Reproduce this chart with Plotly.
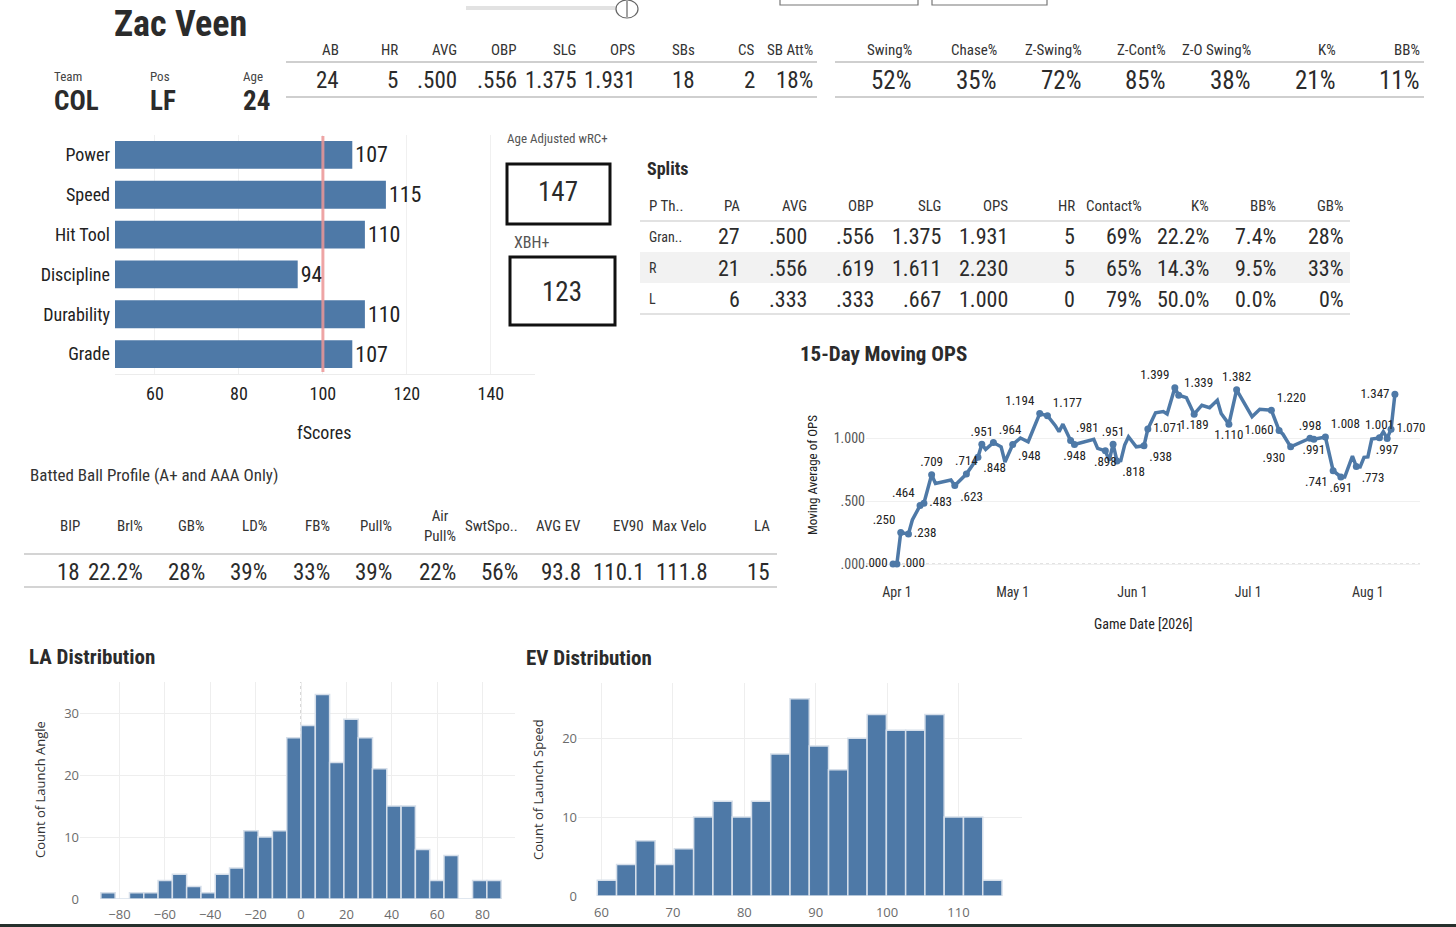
import plotly.graph_objects as go

W, H = 1456, 927
NARROW = "Roboto Condensed, Liberation Sans Narrow, Roboto, sans-serif"
BOOK = "Open Sans, Lato, sans-serif"
BLUE = "#4e79a7"
DARK = "#222222"

# ---------------- data ----------------
player_name = "Zac Veen"
bio_labels = ["Team", "Pos", "Age"]
bio_values = ["COL", "LF", "24"]

top_headers = ["AB", "HR", "AVG", "OBP", "SLG", "OPS", "SBs", "CS", "SB Att%"]
top_values = ["24", "5", ".500", ".556", "1.375", "1.931", "18", "2", "18%"]

disc_headers = ["Swing%", "Chase%", "Z-Swing%", "Z-Cont%", "Z-O Swing%", "K%", "BB%"]
disc_values = ["52%", "35%", "72%", "85%", "38%", "21%", "11%"]

fs_categories = ["Power", "Speed", "Hit Tool", "Discipline", "Durability", "Grade"]
fs_values = [107, 115, 110, 94, 110, 107]
fs_reference = 100
fs_ticks = [60, 80, 100, 120, 140]

wrc_label = "Age Adjusted wRC+"
wrc_value = "147"
xbh_label = "XBH+"
xbh_value = "123"

split_headers = ["P Th..", "PA", "AVG", "OBP", "SLG", "OPS", "HR", "Contact%", "K%", "BB%", "GB%"]
split_row_gran = ["Gran..", "27", ".500", ".556", "1.375", "1.931", "5", "69%", "22.2%", "7.4%", "28%"]
split_row_r = ["R", "21", ".556", ".619", "1.611", "2.230", "5", "65%", "14.3%", "9.5%", "33%"]
split_row_l = ["L", "6", ".333", ".333", ".667", "1.000", "0", "79%", "50.0%", "0.0%", "0%"]

bb_title = "Batted Ball Profile (A+ and AAA Only)"
bb_headers = ["BIP", "Brl%", "GB%", "LD%", "FB%", "Pull%", "Air<br>Pull%", "SwtSpo..",
              "AVG EV", "EV90", "Max Velo", "LA"]
bb_values = ["18", "22.2%", "28%", "39%", "33%", "39%", "22%", "56%", "93.8", "110.1", "111.8", "15"]

ops_dates = ["2026-03-31", "2026-04-01", "2026-04-02", "2026-04-04", "2026-04-05", "2026-04-07",
             "2026-04-08", "2026-04-10", "2026-04-11", "2026-04-15", "2026-04-16", "2026-04-19",
             "2026-04-22", "2026-04-23", "2026-04-24", "2026-04-26", "2026-04-28", "2026-04-29",
             "2026-05-01", "2026-05-03", "2026-05-05", "2026-05-08", "2026-05-10", "2026-05-12",
             "2026-05-13", "2026-05-14", "2026-05-16", "2026-05-17", "2026-05-22", "2026-05-23",
             "2026-05-25", "2026-05-26", "2026-05-27", "2026-05-28", "2026-05-29", "2026-05-30",
             "2026-05-31", "2026-06-02", "2026-06-04", "2026-06-05", "2026-06-07", "2026-06-09",
             "2026-06-10", "2026-06-12", "2026-06-13", "2026-06-15", "2026-06-17", "2026-06-19",
             "2026-06-21", "2026-06-23", "2026-06-24", "2026-06-26", "2026-06-28", "2026-06-29",
             "2026-07-02", "2026-07-04", "2026-07-07", "2026-07-09", "2026-07-10", "2026-07-12",
             "2026-07-17", "2026-07-18", "2026-07-21", "2026-07-23", "2026-07-25", "2026-07-26",
             "2026-07-28", "2026-07-29", "2026-07-30", "2026-07-31", "2026-08-01", "2026-08-02",
             "2026-08-04", "2026-08-05", "2026-08-06", "2026-08-07", "2026-08-08"]
ops_values = [0.000, 0.000, 0.250, 0.238, 0.350, 0.464,
              0.483, 0.709, 0.640, 0.667, 0.623, 0.714,
              0.848, 0.951, 0.910, 0.964, 0.930, 0.810,
              0.948, 1.000, 0.970, 1.194, 1.177, 1.100,
              1.050, 1.110, 0.981, 0.948, 0.990, 0.918,
              0.898, 0.820, 0.951, 0.818, 0.820, 0.944,
              1.010, 0.930, 0.938, 1.071, 1.200, 1.210,
              1.190, 1.399, 1.339, 1.320, 1.189, 1.260,
              1.240, 1.300, 1.195, 1.110, 1.382, 1.330,
              1.169, 1.228, 1.220, 1.060, 1.030, 0.930,
              0.998, 0.991, 1.008, 0.741, 0.691, 0.690,
              0.857, 0.773, 0.770, 0.847, 0.850, 0.992,
              1.001, 1.050, 0.997, 1.070, 1.347]
ops_labels = [".000", ".000", ".250", ".238", "", ".464",
              ".483", ".709", "", "", ".623", ".714",
              ".848", ".951", "", ".964", "", "",
              ".948", "", "", "1.194", "1.177", "",
              "", "", ".981", ".948", "", "",
              ".898", "", ".951", ".818", "", "",
              "", "", ".938", "1.071", "", "",
              "", "1.399", "1.339", "", "1.189", "",
              "", "", "", "1.110", "1.382", "",
              "", "", "1.220", "1.060", "", ".930",
              ".998", ".991", "1.008", ".741", ".691", "",
              "", ".773", "", "", "", "",
              "1.001", "", ".997", "1.070", "1.347"]
ops_ticks = ["2026-04-01", "2026-05-01", "2026-06-01", "2026-07-01", "2026-08-01"]
ops_ticktext = ["Apr 1", "May 1", "Jun 1", "Jul 1", "Aug 1"]
ops_yticks = [0, 0.5, 1.0]
ops_yticktext = [".000", ".500", "1.000"]

la_bin_start = [-88.2, -81.9, -75.6, -69.3, -63.0, -56.7, -50.4, -44.1, -37.8, -31.5,
                -25.2, -18.9, -12.6, -6.3, 0.0, 6.3, 12.6, 18.9, 25.2, 31.5,
                37.8, 44.1, 50.4, 56.7, 63.0, 69.3, 75.6, 81.9]
la_counts = [1, 0, 1, 1, 3, 4, 2, 1, 4, 5,
             11, 10, 11, 26, 28, 33, 22, 29, 26, 21,
             15, 15, 8, 3, 7, 0, 3, 3]
la_bin_width = 6.3
la_ticks = [-80, -60, -40, -20, 0, 20, 40, 60, 80]
la_yticks = [0, 10, 20, 30]

ev_bin_start = [59.4, 62.1, 64.8, 67.5, 70.2, 72.9, 75.6, 78.3, 81.0, 83.7, 86.4,
                89.1, 91.8, 94.5, 97.2, 99.9, 102.6, 105.3, 108.0, 110.7, 113.4]
ev_counts = [2, 4, 7, 4, 6, 10, 12, 10, 12, 18, 25,
             19, 16, 20, 23, 21, 21, 23, 10, 10, 2]
ev_bin_width = 2.7
ev_ticks = [60, 70, 80, 90, 100, 110]
ev_yticks = [0, 10, 20]

# ---------------- helpers ----------------
def px(x):
    return x / W


def py(y):
    return 1 - y / H


annotations = []
shapes = []


def txt(x, y, s, size, color=DARK, xanchor="center", bold=False, family=NARROW, angle=0):
    annotations.append(dict(
        x=px(x), y=py(y), xref="paper", yref="paper",
        text=("<b>%s</b>" % s) if bold else s, showarrow=False,
        xanchor=xanchor, yanchor="middle", textangle=angle,
        font=dict(size=size, color=color, family=family)))


def hline(x0, x1, y, color="#d4d4d4", width=1.5):
    shapes.append(dict(type="line", xref="paper", yref="paper",
                       x0=px(x0), x1=px(x1), y0=py(y), y1=py(y),
                       line=dict(color=color, width=width)))


def rect(x0, y0, x1, y1, line_color="#111", width=3, fill="rgba(0,0,0,0)", layer="above"):
    shapes.append(dict(type="rect", xref="paper", yref="paper",
                       x0=px(x0), x1=px(x1), y0=py(y1), y1=py(y0),
                       line=dict(color=line_color, width=width), fillcolor=fill, layer=layer))


fig = go.Figure()

# ---------------- header ----------------
txt(112, 24, player_name, 36, color="#2b2b2b", xanchor="left", bold=True)
bio_x = [52, 148, 241]
for lbl, val, x in zip(bio_labels, bio_values, bio_x):
    txt(x, 76, lbl, 13, color="#444", xanchor="left")
    txt(x, 101, val, 27, color="#2b2b2b", xanchor="left", bold=True)

top_right = [341, 400, 459, 519, 578, 637, 697, 757, 815]
for h, v, xr in zip(top_headers, top_values, top_right):
    txt(xr, 50, h, 15, color="#333", xanchor="right")
    txt(xr, 80, v, 23, color="#2b2b2b", xanchor="right")
hline(286, 817, 62, color="#cfcfcf", width=2)
hline(286, 817, 97, color="#cfcfcf", width=2)

disc_right = [914, 999, 1084, 1168, 1253, 1338, 1422]
for h, v, xr in zip(disc_headers, disc_values, disc_right):
    txt(xr, 50, h, 15, color="#333", xanchor="right")
    txt(xr, 80, v, 25, color="#2b2b2b", xanchor="right")
hline(835, 1424, 62, color="#cfcfcf", width=2)
hline(835, 1424, 97, color="#cfcfcf", width=2)

# slider + filter boxes (decorative controls)
shapes.append(dict(type="line", xref="paper", yref="paper", x0=px(466), x1=px(622),
                   y0=py(8), y1=py(8), line=dict(color="#e2e2e2", width=4)))
shapes.append(dict(type="circle", xref="paper", yref="paper", x0=px(616), x1=px(638),
                   y0=py(18), y1=py(0), line=dict(color="#666", width=1.2), fillcolor="white"))
shapes.append(dict(type="line", xref="paper", yref="paper", x0=px(627), x1=px(627),
                   y0=py(17), y1=py(1), line=dict(color="#666", width=1.2)))
rect(780, -6, 918, 5, line_color="#777", width=1.2)
rect(932, -6, 1047, 5, line_color="#777", width=1.2)

# ---------------- fScores ----------------
fig.add_trace(go.Bar(
    x=fs_values, y=fs_categories, orientation="h", xaxis="x", yaxis="y",
    marker=dict(color=BLUE, line=dict(width=0)),
    text=fs_values, textposition="outside", cliponaxis=False,
    textfont=dict(size=22, family=NARROW, color=DARK), hoverinfo="skip"))
shapes.append(dict(type="line", xref="x", yref="paper", x0=fs_reference, x1=fs_reference,
                   y0=py(372), y1=py(136), line=dict(color="rgba(236,150,150,0.85)", width=3),
                   layer="above"))
txt(324, 432, "fScores", 18, color=DARK)

# wRC+ / XBH+ boxes
txt(505, 138, wrc_label, 13, color="#555", xanchor="left")
rect(507, 164, 610, 224)
txt(558, 192, wrc_value, 27, color="#2b2b2b")
txt(512, 242, xbh_label, 16, color="#555", xanchor="left")
rect(510, 257, 615, 325)
txt(562, 292, xbh_value, 27, color="#2b2b2b")

# ---------------- Splits ----------------
txt(645, 168, "Splits", 18, color="#2b2b2b", xanchor="left", bold=True)
rect(640, 252, 1350, 283, line_color="rgba(0,0,0,0)", width=0, fill="#f2f2f2", layer="below")
split_right = [647, 742, 809, 876, 943, 1010, 1077, 1144, 1211, 1278, 1346]
for i, (h, xr) in enumerate(zip(split_headers, split_right)):
    anchor = "left" if i == 0 else "right"
    txt(xr, 206, h, 15, color="#333", xanchor=anchor)
for row, yrow in zip([split_row_gran, split_row_r, split_row_l], [237, 268, 299]):
    for i, (v, xr) in enumerate(zip(row, split_right)):
        if i == 0:
            txt(xr, yrow, v, 14, color="#333", xanchor="left")
        else:
            txt(xr, yrow, v, 22, color="#2b2b2b", xanchor="right")
hline(640, 1350, 221, color="#d8d8d8", width=1.5)
hline(640, 1350, 314, color="#d8d8d8", width=1.5)

# ---------------- Batted ball profile ----------------
txt(28, 475, bb_title, 17, color="#333", xanchor="left")
bb_right = [82, 145, 207, 269, 332, 394, 458, 520, 583, 646, 709, 772]
for h, v, xr in zip(bb_headers, bb_values, bb_right):
    txt(xr, 526, h, 15, color="#333", xanchor="right")
    txt(xr, 572, v, 23, color="#2b2b2b", xanchor="right")
hline(24, 777, 554, color="#d4d4d4", width=2)
hline(24, 777, 587, color="#d4d4d4", width=2)

# ---------------- 15-day moving OPS ----------------
txt(798, 354, "15-Day Moving OPS", 21, color="#2b2b2b", xanchor="left", bold=True)
fig.add_trace(go.Scatter(
    x=ops_dates, y=ops_values, mode="lines", xaxis="x2", yaxis="y2",
    line=dict(color=BLUE, width=3.5), hoverinfo="skip"))

pos_list = ["middle left", "middle right", "top left", "middle right", "top left",
            "middle right", "top center", "bottom right", "top center", "bottom right",
            "top center", "top right", "bottom right", "top left", "top right",
            "top right", "bottom center", "bottom center", "top center", "bottom right",
            "bottom right", "middle right", "top left", "top right", "bottom center",
            "bottom center", "top center", "top right", "middle left", "bottom left",
            "top center", "bottom center", "top right", "bottom left", "bottom center",
            "bottom right", "top center", "bottom center", "middle right", "middle left"]
lx = [d for d, l in zip(ops_dates, ops_labels) if l]
ly = [v for v, l in zip(ops_values, ops_labels) if l]
lt = [l for l in ops_labels if l]
fig.add_trace(go.Scatter(
    x=lx, y=ly, text=lt, mode="markers+text", xaxis="x2", yaxis="y2",
    marker=dict(color=BLUE, size=7), textposition=pos_list[:len(lt)],
    textfont=dict(size=13, family=NARROW, color=DARK), cliponaxis=False, hoverinfo="skip"))
shapes.append(dict(type="line", xref="paper", yref="y2", x0=px(866), x1=px(1420), y0=0, y1=0,
                   line=dict(color="#c8c8c8", width=1.2, dash="dot"), layer="below"))
txt(813, 475, "Moving Average of OPS", 13, color=DARK, angle=-90)
txt(1143, 624, "Game Date [2026]", 14, color=DARK)

# ---------------- LA distribution ----------------
txt(27, 657, "LA Distribution", 21, color="#2b2b2b", xanchor="left", bold=True)
fig.add_trace(go.Bar(
    x=la_bin_start, y=la_counts, width=la_bin_width, offset=0, xaxis="x3", yaxis="y3",
    marker=dict(color=BLUE, line=dict(color="#d6dfea", width=1.5)), hoverinfo="skip"))
shapes.append(dict(type="line", xref="x3", yref="paper", x0=0, x1=0, y0=py(899), y1=py(682),
                   line=dict(color="#bdbdbd", width=1.2, dash="dot"), layer="below"))
txt(40, 790, "Count of Launch Angle", 13, color="#333", family=BOOK, angle=-90)

# ---------------- EV distribution ----------------
txt(524, 658, "EV Distribution", 21, color="#2b2b2b", xanchor="left", bold=True)
fig.add_trace(go.Bar(
    x=ev_bin_start, y=ev_counts, width=ev_bin_width, offset=0, xaxis="x4", yaxis="y4",
    marker=dict(color=BLUE, line=dict(color="#d6dfea", width=1.5)), hoverinfo="skip"))
txt(538, 790, "Count of Launch Speed", 13, color="#333", family=BOOK, angle=-90)

# bottom border of the dashboard
rect(0, 924, W, 927, line_color="rgba(0,0,0,0)", width=0, fill="#26302c")

tick_narrow = dict(family=NARROW, size=18, color=DARK)
hist_tick = dict(family=BOOK, size=13, color="#6b6b6b")

fig.update_layout(
    width=W, height=H, autosize=False,
    margin=dict(l=0, r=0, t=0, b=0, autoexpand=False),
    paper_bgcolor="white", plot_bgcolor="white",
    showlegend=False, bargap=0.3,
    annotations=annotations, shapes=shapes,
    xaxis=dict(domain=[px(115), px(535)], range=[50.5, 150.5], tickvals=fs_ticks,
               showgrid=True, gridcolor="#f0f0f0", zeroline=False, showline=True,
               linecolor="#ececec", tickfont=tick_narrow, anchor="y", ticklabelstandoff=3,
               automargin=False),
    yaxis=dict(domain=[py(374), py(135)], autorange="reversed", showgrid=False,
               zeroline=False, tickfont=dict(family=NARROW, size=18, color=DARK),
               anchor="x", ticklabelstandoff=4, automargin=False),
    xaxis2=dict(domain=[px(866), px(1420)], range=["2026-03-24", "2026-08-14 12:00"],
                tickvals=ops_ticks, ticktext=ops_ticktext, showgrid=False, zeroline=False,
                tickfont=dict(family=NARROW, size=14, color="#333"), anchor="y2",
                ticklabelstandoff=9, automargin=False),
    yaxis2=dict(domain=[py(573), py(378)], range=[-0.071, 1.476], tickvals=ops_yticks,
                ticktext=ops_yticktext, showgrid=True, gridcolor="#f0f0f0", zeroline=False,
                tickfont=dict(family=NARROW, size=14, color="#555"), anchor="x2",
                automargin=False),
    xaxis3=dict(domain=[px(80), px(515)], range=[-97.4, 94.3], tickvals=la_ticks,
                showgrid=True, gridcolor="#eeeeee", zeroline=False, tickfont=hist_tick,
                anchor="y3", ticklabelstandoff=6, automargin=False),
    yaxis3=dict(domain=[py(899), py(682)], range=[0, 35], tickvals=la_yticks,
                showgrid=True, gridcolor="#eeeeee", zeroline=False, tickfont=hist_tick,
                anchor="x3", automargin=False),
    xaxis4=dict(domain=[px(578), px(1022)], range=[56.7, 118.9], tickvals=ev_ticks,
                showgrid=True, gridcolor="#eeeeee", zeroline=False, tickfont=hist_tick,
                anchor="y4", ticklabelstandoff=7, automargin=False),
    yaxis4=dict(domain=[py(896), py(683)], range=[0, 27], tickvals=ev_yticks,
                showgrid=True, gridcolor="#eeeeee", zeroline=False, tickfont=hist_tick,
                anchor="x4", automargin=False),
)

fig.write_html("out.html", config={"displayModeBar": False},
               post_script="document.body.style.margin='0';document.body.style.overflow='hidden';")
